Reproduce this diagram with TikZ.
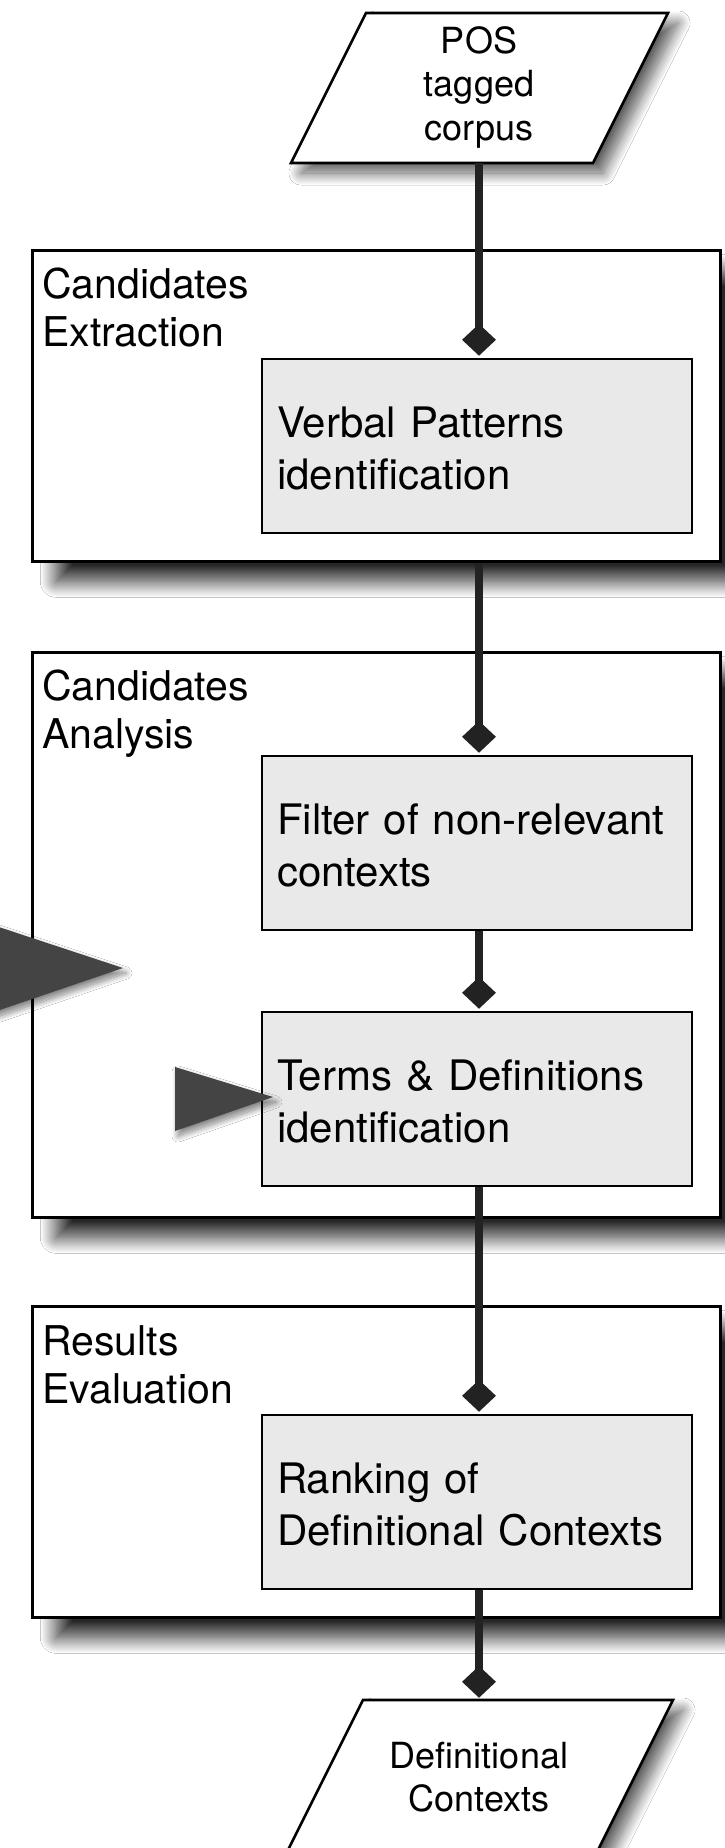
\documentclass[tikz,border=0pt]{standalone}
\usepackage{fontspec}
\setmainfont{TeX Gyre Heros}
\usetikzlibrary{shapes.geometric,shadows.blur}
\definecolor{linkgray}{HTML}{222222}
\definecolor{stepfill}{HTML}{E9E9E9}
\definecolor{pointergray}{HTML}{444444}
\begin{document}
\begin{tikzpicture}[x=1pt,y=-1pt,
  phase/.style={draw=black, line width=2.6pt, fill=white, anchor=north west,
    minimum width=688pt, inner sep=0pt,
    blur shadow={shadow xshift=24pt, shadow yshift=-20pt, shadow blur radius=16pt,
      shadow blur steps=32, shadow opacity=85}},
  phaselabel/.style={anchor=north west, inner sep=0pt, align=left,
    font=\fontsize{41}{48}\selectfont},
  stepbox/.style={draw=black, line width=2.4pt, fill=stepfill, anchor=north west,
    minimum width=430pt, minimum height=174pt, text width=400pt,
    inner xsep=15pt, inner ysep=0pt, align=left, font=\fontsize{42}{52}\selectfont},
  io/.style={draw=black, line width=2.6pt, fill=white,
    blur shadow={shadow xshift=10pt, shadow yshift=-10pt, shadow blur radius=12pt,
      shadow blur steps=24, shadow opacity=65}},
  iotext/.style={anchor=north, inner sep=0pt, align=center,
    font=\fontsize{36}{43.5}\selectfont},
  joint/.style={diamond, fill=linkgray, inner sep=0pt, minimum width=34pt,
    minimum height=32pt, anchor=south, yshift=2pt},
  link/.style={draw=linkgray, line width=8pt},
  pointer/.style={fill=pointergray,
    blur shadow={shadow xshift=3pt, shadow yshift=-5pt, shadow blur radius=6pt,
      shadow blur steps=16, shadow opacity=50}}
]
\useasboundingbox (0,0) rectangle (725,1848);
\clip (0,0) rectangle (725,1848);
\fill[white] (0,0) rectangle (725,1848);

% vertical axis of the flow
\coordinate (axis) at (479,0);

% input data
\draw[io] (366,13) -- (668,13) -- (593,163) -- (291,163) -- cycle;
\node[iotext] (src) at (479,25) {\rule{0pt}{28pt}POS\\tagged\\corpus};
\coordinate (src-out) at (479,163);

% phase 1
\node[phase, minimum height=311pt] (box1) at (31,249) {};
\node[phaselabel] (lab1) at (42,266) {\rule{0pt}{32pt}Candidates\\Extraction};
\node[stepbox] (in1) at (261,358) {\rule{0pt}{36pt}Verbal Patterns\\identification};

% phase 2
\node[phase, minimum height=565pt] (box2) at (31,651) {};
\node[phaselabel] (lab2) at (42,668) {\rule{0pt}{32pt}Candidates\\Analysis};
\node[stepbox] (in2a) at (261,755) {\rule{0pt}{36pt}Filter of non-relevant\\contexts};
\node[stepbox] (in2b) at (261,1011) {\rule{0pt}{36pt}Terms \& Definitions\\identification};

% phase 3
\node[phase, minimum height=311pt] (box3) at (31,1305) {};
\node[phaselabel] (lab3) at (42,1323) {\rule{0pt}{32pt}Results\\Evaluation};
\node[stepbox] (in3) at (261,1414) {\rule{0pt}{36pt}Ranking of\\Definitional Contexts};

% output data
\draw[io] (363,1700) -- (673,1700) -- (598,1850) -- (288,1850) -- cycle;
\node[iotext] (sink) at (479,1740) {\rule{0pt}{28pt}Definitional\\Contexts};
\coordinate (sink-in) at (479,1700);

% diamond joints
\node[joint] (d1) at (in1.north -| axis) {};
\node[joint] (d2a) at (in2a.north -| axis) {};
\node[joint] (d2b) at (in2b.north -| axis) {};
\node[joint] (d3) at (in3.north -| axis) {};
\node[joint] (dout) at (sink-in) {};

% connectors
\draw[link] (src-out) -- (d1.center);
\draw[link] (box1.south -| axis) -- (d2a.center);
\draw[link] (in2a.south -| axis) -- (d2b.center);
\draw[link] (in2b.south -| axis) -- (d3.center);
\draw[link] (in3.south -| axis) -- (dout.center);

% pointers
\fill[pointer] (-71,904) -- (123,968) -- (-71,1034) -- cycle;
\fill[pointer] (175,1067) -- (273,1097) -- (175,1131) -- cycle;
\end{tikzpicture}
\end{document}
